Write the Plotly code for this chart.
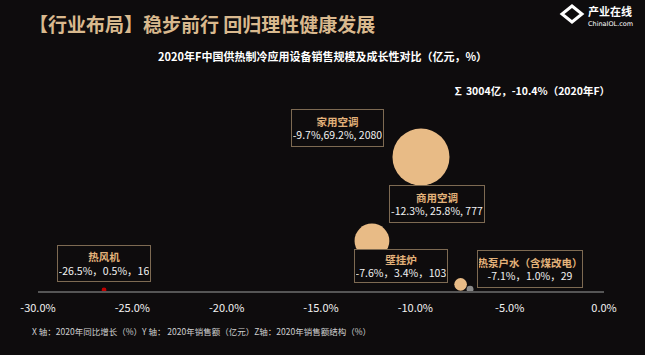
import plotly.graph_objects as go
import math

categories = ["家用空调", "商用空调", "壁挂炉", "热泵户水（含煤改电）", "热风机"]
growth = [-9.7, -12.3, -7.6, -7.1, -26.5]          # X: 2020 YoY growth (%)
sales = [2080, 777, 103, 29, 16]                    # Y: 2020 sales (亿元)
share = [69.2, 25.8, 3.4, 1.0, 0.5]                 # Z: 2020 share (%)
value_labels = ["-9.7%,69.2%, 2080", "-12.3%, 25.8%, 777", "-7.6%，3.4%，103",
                "-7.1%，1.0%，29", "-26.5%，0.5%，16"]
x_ticks = [-30, -25, -20, -15, -10, -5, 0]

W, H = 645, 355
ML, MR, MT, MB = 38, 41, 100, 64
PW, PH = W - ML - MR, H - MT - MB

BG = "#0e0c0d"
TAN = "#e8bb86"
bubble_colors = [TAN, TAN, TAN, "#8a8a8a", "#c00000"]
FONT = "Noto Sans CJK SC"

max_d = 57
sizes = [max_d * math.sqrt(s / max(share)) for s in share]

fig = go.Figure()
fig.add_trace(go.Scatter(
    x=growth, y=sales, mode="markers",
    marker=dict(size=sizes, color=bubble_colors, opacity=1, line=dict(width=0)),
    cliponaxis=False, hoverinfo="skip", showlegend=False))

def px2paper(px, py):
    return (px - ML) / PW, (H - MB - py) / PH

# label boxes (left, top, width, height) in pixels
boxes = [(291, 109, 93, 38), (389, 185, 96, 38), (354, 249, 94, 34),
         (477, 250, 106, 38), (57, 245, 94, 37)]
annotations = []
for name, val, (bx, by, bw, bh) in zip(categories, value_labels, boxes):
    xp, yp = px2paper(bx, by)
    annotations.append(dict(
        x=xp, y=yp, xref="paper", yref="paper", xanchor="left", yanchor="top",
        text=f"<b><span style='color:#e3b27a'>{name}</span></b><br><span style='color:#f2f2f2'>{val}</span>",
        showarrow=False, align="center", width=bw - 4, height=bh - 4,
        bordercolor="#7d6a52", borderwidth=1, borderpad=1, bgcolor=BG,
        font=dict(family=FONT, size=10.5, color="#f2f2f2")))

def txt(px, py, text, size, color, xanchor="left", family=FONT):
    xp, yp = px2paper(px, py)
    return dict(x=xp, y=yp, xref="paper", yref="paper", xanchor=xanchor, yanchor="middle",
                text=text, showarrow=False, font=dict(family=family, size=size, color=color))

annotations += [
    txt(27, 23, "<b>【行业布局】稳步前行 回归理性健康发展</b>", 19, "#d9b98e"),
    txt(322, 56, "<b>2020年F中国供热制冷应用设备销售规模及成长性对比（亿元，%）</b>", 11, "#ffffff", "center"),
    txt(612, 90, "<b>∑ 3004亿，-10.4%（2020年F）</b>", 10.5, "#ffffff", "right"),
    txt(30, 331, "X 轴：2020年同比增长（%）Y 轴： 2020年销售额（亿元）Z轴：2020年销售额结构（%）", 8.5, "#d0d0d0"),
    txt(586, 11, "<b>产业在线</b>", 11, "#ffffff"),
    txt(586, 24, "ChinaIOL.com", 6.5, "#ffffff", family="DejaVu Sans"),
]

def sx(px):
    return (px - ML) / PW

def sy(py):
    return (H - MB - py) / PH

shapes = [
    dict(type="path", xref="paper", yref="paper",
         path=f"M {sx(572)} {sy(6)} L {sx(582)} {sy(14)} L {sx(572)} {sy(22)} L {sx(562)} {sy(14)} Z",
         line=dict(color="#ffffff", width=3), fillcolor="rgba(0,0,0,0)"),
]

fig.update_layout(
    width=W, height=H, margin=dict(l=ML, r=MR, t=MT, b=MB),
    paper_bgcolor=BG, plot_bgcolor=BG,
    annotations=annotations, shapes=shapes,
    xaxis=dict(range=[-30, 0], tickvals=x_ticks, ticktext=[f"{v:.1f}%" for v in x_ticks],
               showgrid=False, zeroline=False, showline=True, linecolor="#555555", linewidth=2,
               ticks="outside", ticklen=6, tickcolor="rgba(0,0,0,0)",
               tickfont=dict(family=FONT, size=11, color="#f2f2f2")),
    yaxis=dict(range=[0, 2965], visible=False, showgrid=False, zeroline=False),
)

fig.write_html("out.html", config={"displayModeBar": False},
               post_script="document.body.style.margin='0px';")
